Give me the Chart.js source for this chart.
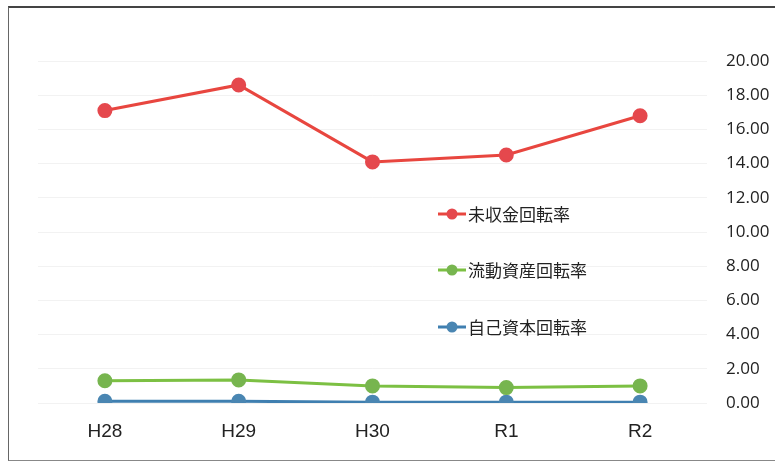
<!DOCTYPE html>
<html>
<head>
<meta charset="utf-8">
<script src="https://cdn.jsdelivr.net/npm/chart.js@4.4.0/dist/chart.umd.min.js"></script>
<style>
  html, body { margin: 0; padding: 0; background: #fff; }
  #wrap { position: relative; width: 775px; height: 469px; }
  #frame {
    position: absolute; left: 8px; top: 6px; width: 770px; height: 455px;
    border-left: 1px solid #666; border-top: 2px solid #444; border-bottom: 1px solid #888;
    box-sizing: border-box; pointer-events: none;
  }
</style>
</head>
<body>
<div id="wrap">
  <canvas id="rateChart" width="775" height="469"></canvas>
  <div id="frame"></div>
</div>
<script>
// Fiscal years and turnover ratios
const years = ["H28", "H29", "H30", "R1", "R2"];
const receivableTurnover = [17.1, 18.6, 14.1, 14.5, 16.8];
const currentAssetTurnover = [1.3, 1.35, 1.0, 0.9, 1.0];
const equityTurnover = [0.1, 0.1, 0.05, 0.05, 0.05];
const seriesNames = ["未収金回転率", "流動資産回転率", "自己資本回転率"];
const yTicks = [0, 2, 4, 6, 8, 10, 12, 14, 16, 18, 20];

const lineColors = ["#e8463f", "#7cc043", "#3f7fb0"];
const pointColors = ["#e5484d", "#77b54f", "#4a86b2"];

// Legend drawn inside the plot area, stacked vertically
const innerLegend = {
  id: "innerLegend",
  afterDraw(chart) {
    const ctx = chart.ctx;
    const x = 438;
    const rows = [214, 270, 327];
    ctx.save();
    chart.data.datasets.forEach((ds, i) => {
      const y = rows[i];
      ctx.strokeStyle = ds.borderColor;
      ctx.lineWidth = 3;
      ctx.beginPath();
      ctx.moveTo(x, y);
      ctx.lineTo(x + 28, y);
      ctx.stroke();
      ctx.fillStyle = ds.pointBackgroundColor;
      ctx.beginPath();
      ctx.arc(x + 14, y, 5.5, 0, Math.PI * 2);
      ctx.fill();
      ctx.fillStyle = "#222";
      ctx.font = "17px 'Noto Sans CJK JP'";
      ctx.textBaseline = "middle";
      ctx.fillText(ds.label, x + 30, y + 1);
    });
    ctx.restore();
  },
};

const datasets = [receivableTurnover, currentAssetTurnover, equityTurnover].map((values, i) => ({
  label: seriesNames[i],
  data: values,
  borderColor: lineColors[i],
  backgroundColor: lineColors[i],
  pointBackgroundColor: pointColors[i],
  pointBorderColor: pointColors[i],
  borderWidth: 3,
  pointRadius: 6,
  tension: 0,
}));

new Chart(document.getElementById("rateChart"), {
  type: "line",
  data: { labels: years, datasets: datasets },
  options: {
    responsive: false,
    animation: false,
    layout: { padding: { left: 38, top: 61, right: 0, bottom: 21 } },
    plugins: { legend: { display: false }, tooltip: { enabled: false } },
    scales: {
      x: {
        offset: true,
        grid: { display: false, drawTicks: false, tickLength: 0 },
        border: { display: false },
        ticks: { color: "#222", font: { family: "Liberation Sans", size: 19 }, padding: 17 },
        afterFit: (axis) => { axis.height = 45; },
      },
      y: {
        position: "right",
        min: 0,
        max: 20,
        afterBuildTicks: (axis) => { axis.ticks = yTicks.map((v) => ({ value: v })); },
        grid: { color: "rgba(0,0,0,0.05)", drawTicks: false },
        border: { display: false },
        ticks: {
          color: "#222",
          font: { family: "Open Sans", size: 17 },
          padding: 19,
          callback: (v) => Number(v).toFixed(2),
        },
        afterFit: (axis) => { axis.width = 68; },
      },
    },
  },
  plugins: [innerLegend],
});
</script>
</body>
</html>
